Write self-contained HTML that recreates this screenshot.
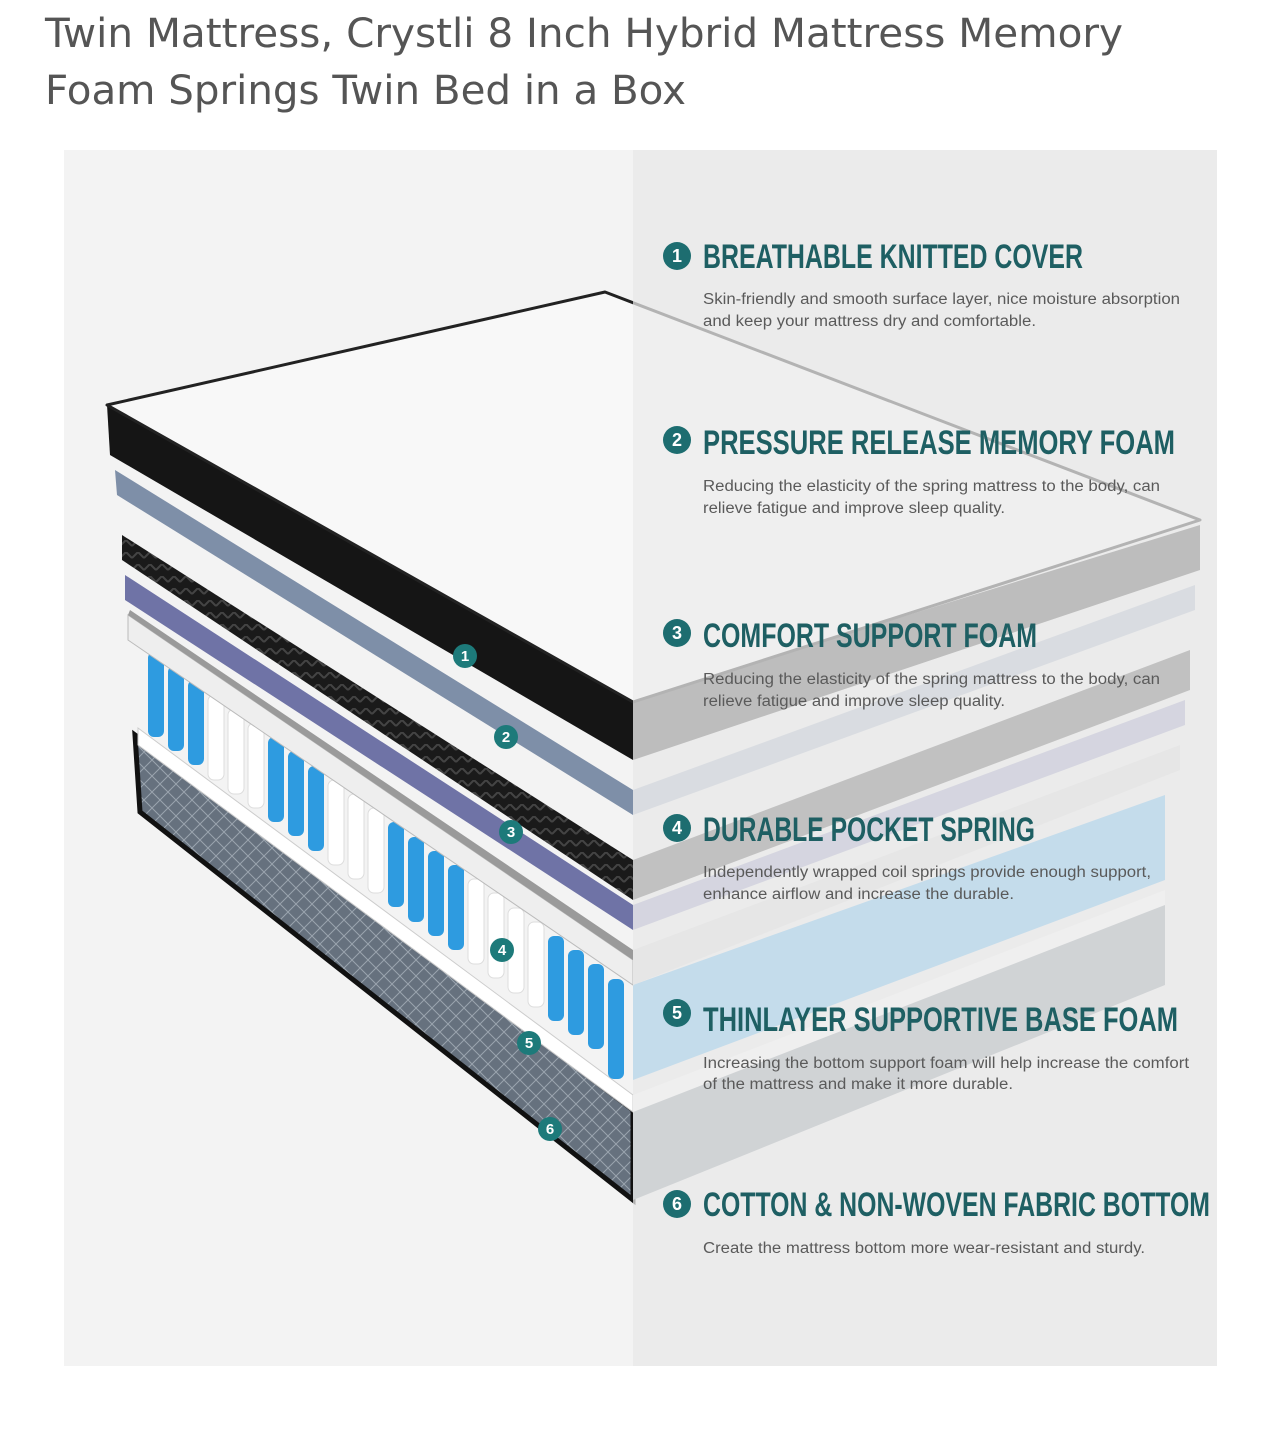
<!DOCTYPE html>
<html><head><meta charset="utf-8"><style>
html,body{margin:0;padding:0;background:#fff;width:1281px;height:1440px;overflow:hidden}
svg{position:absolute;left:0;top:0}
</style></head><body>
<svg width="1281" height="1440" viewBox="0 0 1281 1440">
<defs>
<pattern id="dia" width="16" height="16" patternUnits="userSpaceOnUse"><rect width="16" height="16" fill="#66717e"/><path d="M0 0L16 16M16 0L0 16" stroke="#9aa4ae" stroke-width="1"/></pattern>
<pattern id="wave" width="12" height="12" patternUnits="userSpaceOnUse"><rect width="12" height="12" fill="#1a1a1a"/><path d="M0 6L6 0L12 6" stroke="#444" stroke-width="2" fill="none"/></pattern>
</defs>
<g fill="#555" font-family="DejaVu Sans,Liberation Sans,sans-serif" font-size="40">
<text x="45" y="47" textLength="1078" lengthAdjust="spacingAndGlyphs">Twin Mattress, Crystli 8 Inch Hybrid Mattress Memory</text>
<text x="45" y="104" textLength="641" lengthAdjust="spacingAndGlyphs">Foam Springs Twin Bed in a Box</text>
</g>
<rect x="64" y="150" width="569" height="1216" fill="#f3f3f3"/>
<rect x="633" y="150" width="584" height="1216" fill="#e9e9e9"/>
<!-- bottom layer -->
<polygon points="135,735 633,1110 633,1200 140,812" fill="url(#dia)" stroke="#111" stroke-width="5"/>
<polygon points="633,1110 1165,900 1165,985 633,1200" fill="#8a939c"/>
<polygon points="138,728 633,1095 633,1112 138,745" fill="#fff" stroke="#ccc"/>
<polygon points="633,1095 1165,890 1165,905 633,1112" fill="#f6f6f6"/>
<!-- springs -->
<g>
<rect x="148" y="652" width="16" height="85" rx="6" fill="#2e9be0"/>
<rect x="168" y="666" width="16" height="85" rx="6" fill="#2e9be0"/>
<rect x="188" y="680" width="16" height="85" rx="6" fill="#2e9be0"/>
<rect x="208" y="695" width="16" height="85" rx="6" fill="#fff" stroke="#ddd"/>
<rect x="228" y="709" width="16" height="85" rx="6" fill="#fff" stroke="#ddd"/>
<rect x="248" y="723" width="16" height="85" rx="6" fill="#fff" stroke="#ddd"/>
<rect x="268" y="737" width="16" height="85" rx="6" fill="#2e9be0"/>
<rect x="288" y="751" width="16" height="85" rx="6" fill="#2e9be0"/>
<rect x="308" y="766" width="16" height="85" rx="6" fill="#2e9be0"/>
<rect x="328" y="780" width="16" height="85" rx="6" fill="#fff" stroke="#ddd"/>
<rect x="348" y="794" width="16" height="85" rx="6" fill="#fff" stroke="#ddd"/>
<rect x="368" y="808" width="16" height="85" rx="6" fill="#fff" stroke="#ddd"/>
<rect x="388" y="822" width="16" height="85" rx="6" fill="#2e9be0"/>
<rect x="408" y="837" width="16" height="85" rx="6" fill="#2e9be0"/>
<rect x="428" y="851" width="16" height="85" rx="6" fill="#2e9be0"/>
<rect x="448" y="865" width="16" height="85" rx="6" fill="#2e9be0"/>
<rect x="468" y="879" width="16" height="85" rx="6" fill="#fff" stroke="#ddd"/>
<rect x="488" y="893" width="16" height="85" rx="6" fill="#fff" stroke="#ddd"/>
<rect x="508" y="908" width="16" height="85" rx="6" fill="#fff" stroke="#ddd"/>
<rect x="528" y="922" width="16" height="85" rx="6" fill="#fff" stroke="#ddd"/>
<rect x="548" y="936" width="16" height="85" rx="6" fill="#2e9be0"/>
<rect x="568" y="950" width="16" height="85" rx="6" fill="#2e9be0"/>
<rect x="588" y="964" width="16" height="85" rx="6" fill="#2e9be0"/>
<rect x="608" y="979" width="16" height="100" rx="6" fill="#2e9be0"/>
<polygon points="633,985 1165,795 1165,880 633,1080" fill="#5fb3e8"/>
</g>
<!-- gray layer -->
<polygon points="128,615 633,960 633,985 128,640" fill="#eee" stroke="#bbb"/>
<polygon points="128,615 633,960 633,950 130,610" fill="#9a9a9a"/>
<polygon points="633,950 1180,745 1180,770 633,985" fill="#d8d8d8"/>
<!-- purple -->
<polygon points="125,575 633,905 633,930 125,600" fill="#6f73a6"/>
<polygon points="633,905 1185,700 1185,725 633,930" fill="#9a9cc0"/>
<!-- black wave -->
<polygon points="122,535 633,860 633,900 122,560" fill="url(#wave)"/>
<polygon points="633,860 1190,650 1190,690 633,900" fill="#555"/>
<!-- blue gray layer 2 -->
<polygon points="115,470 633,790 633,815 117,495" fill="#7e8fa8"/>
<polygon points="633,790 1195,585 1195,610 633,815" fill="#aab5c5"/>
<!-- top slab -->
<polygon points="107,405 633,700 633,760 110,455" fill="#151515"/>
<polygon points="633,700 1200,525 1200,570 633,760" fill="#444"/>
<polygon points="107,405 605,292 1200,520 633,702" fill="#f8f8f8" stroke="#222" stroke-width="3" stroke-linejoin="round"/>
<!-- right overlay -->
<rect x="633" y="150" width="584" height="1216" fill="#ececec" opacity="0.72"/>
<!-- left badges -->
<g fill="#1d7a7a"><circle cx="465" cy="656" r="12"/><circle cx="506" cy="737" r="12"/><circle cx="511" cy="832" r="12"/><circle cx="502" cy="950" r="12"/><circle cx="529" cy="1043" r="12"/><circle cx="550" cy="1129" r="12"/></g>
<g fill="#fff" font-family="Liberation Sans,sans-serif" font-weight="bold" font-size="15" text-anchor="middle">
<text x="465" y="661">1</text><text x="506" y="742">2</text><text x="511" y="837">3</text><text x="502" y="955">4</text><text x="529" y="1048">5</text><text x="550" y="1134">6</text></g>
<!-- right badges -->
<g fill="#1d6d70"><circle cx="677" cy="256" r="14"/><circle cx="677" cy="440" r="14"/><circle cx="677" cy="633" r="14"/><circle cx="677" cy="828" r="14"/><circle cx="677" cy="1013" r="14"/><circle cx="677" cy="1204" r="14"/></g>
<g fill="#fff" font-family="Liberation Sans,sans-serif" font-weight="bold" font-size="18" text-anchor="middle">
<text x="677" y="262">1</text><text x="677" y="446">2</text><text x="677" y="639">3</text><text x="677" y="834">4</text><text x="677" y="1019">5</text><text x="677" y="1210">6</text></g>
<g fill="#1e5f63" font-family="Liberation Sans Narrow,Liberation Sans,sans-serif" font-weight="bold" font-size="34">
<text x="703" y="268" textLength="380" lengthAdjust="spacingAndGlyphs">BREATHABLE KNITTED COVER</text>
<text x="703" y="454" textLength="472" lengthAdjust="spacingAndGlyphs">PRESSURE RELEASE MEMORY FOAM</text>
<text x="703" y="647" textLength="334" lengthAdjust="spacingAndGlyphs">COMFORT SUPPORT FOAM</text>
<text x="703" y="841" textLength="332" lengthAdjust="spacingAndGlyphs">DURABLE POCKET SPRING</text>
<text x="703" y="1031" textLength="475" lengthAdjust="spacingAndGlyphs">THINLAYER SUPPORTIVE BASE FOAM</text>
<text x="703" y="1216" textLength="507" lengthAdjust="spacingAndGlyphs">COTTON &amp; NON-WOVEN FABRIC BOTTOM</text>
</g>
<g fill="#5a5a5a" font-family="Liberation Sans,sans-serif" font-size="15.5" lengthAdjust="spacingAndGlyphs">
<text x="703" y="304" textLength="477" lengthAdjust="spacingAndGlyphs">Skin-friendly and smooth surface layer, nice moisture absorption</text>
<text x="703" y="326" textLength="333" lengthAdjust="spacingAndGlyphs">and keep your mattress dry and comfortable.</text>
<text x="703" y="491" textLength="457" lengthAdjust="spacingAndGlyphs">Reducing the elasticity of the spring mattress to the body, can</text>
<text x="703" y="513" textLength="302" lengthAdjust="spacingAndGlyphs">relieve fatigue and improve sleep quality.</text>
<text x="703" y="684" textLength="457" lengthAdjust="spacingAndGlyphs">Reducing the elasticity of the spring mattress to the body, can</text>
<text x="703" y="706" textLength="302" lengthAdjust="spacingAndGlyphs">relieve fatigue and improve sleep quality.</text>
<text x="703" y="877" textLength="448" lengthAdjust="spacingAndGlyphs">Independently wrapped coil springs provide enough support,</text>
<text x="703" y="899" textLength="311" lengthAdjust="spacingAndGlyphs">enhance airflow and increase the durable.</text>
<text x="703" y="1068" textLength="486" lengthAdjust="spacingAndGlyphs">Increasing the bottom support foam will help increase the comfort</text>
<text x="703" y="1089" textLength="310" lengthAdjust="spacingAndGlyphs">of the mattress and make it more durable.</text>
<text x="703" y="1253" textLength="442" lengthAdjust="spacingAndGlyphs">Create the mattress bottom more wear-resistant and sturdy.</text>
</g>
</svg>
</body></html>
